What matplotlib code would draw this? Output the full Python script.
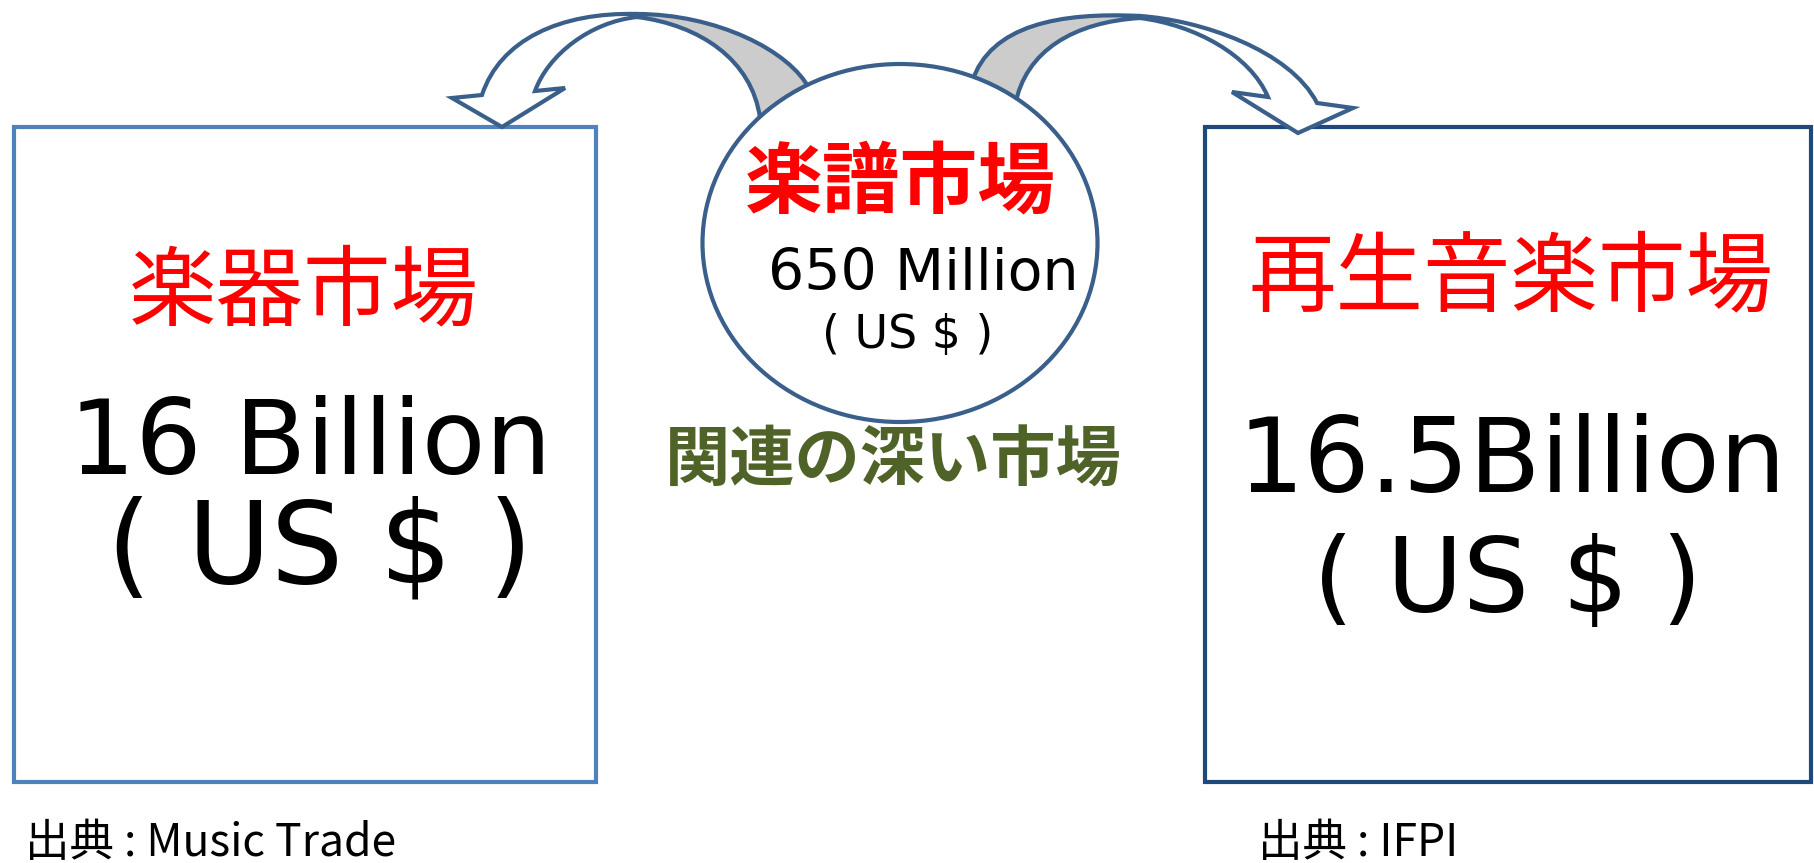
import matplotlib
matplotlib.use('Agg')
import matplotlib.pyplot as plt
from matplotlib.patches import Rectangle, Ellipse, PathPatch
from matplotlib.path import Path

# content
markets = ['楽器市場', '楽譜市場', '再生音楽市場']
sizes = ['16 Billion', '650 Million', '16.5Billion']
unit = '( US $ )'
link_label = '関連の深い市場'
sources = ['出典 : Music Trade', '出典 : IFPI']

cjk = ['Noto Sans CJK JP', 'DejaVu Sans']
red = '#ff0000'
edge = '#3a5f8b'

fig = plt.figure(figsize=(18.14, 8.63), dpi=100)
ax = fig.add_axes([0, 0, 1, 1])
ax.set_xlim(0, 1814)
ax.set_ylim(863, 0)
ax.axis('off')

# boxes
ax.add_patch(Rectangle((14, 127), 582, 655, fill=False, ec='#4f81bd', lw=3))
ax.add_patch(Rectangle((1205, 127), 606, 655, fill=False, ec='#1f497d', lw=3))

# curved arrows (white front, gray back)
M, C, L, Z = Path.MOVETO, Path.CURVE4, Path.LINETO, Path.CLOSEPOLY

def shape(verts, codes, fc):
    ax.add_patch(PathPatch(Path(verts, codes), fc=fc, ec=edge, lw=3,
                           joinstyle='miter', zorder=2))

# left arrow
shape([(637, 14), (560, 12), (500, 40), (482, 95), (452, 98), (502, 127),
       (565, 88), (535, 91), (548, 55), (590, 22), (637, 17), (637, 14)],
      [M, C, C, C, L, L, L, L, C, C, C, Z], 'white')
shape([(637, 14), (715, 14), (790, 50), (810, 90), (760, 118),
       (752, 60), (700, 25), (637, 17), (637, 14)],
      [M, C, C, C, L, C, C, C, Z], '#cccccc')

# right arrow
shape([(1140, 16), (1200, 20), (1290, 50), (1317, 103), (1353, 108),
       (1298, 133), (1232, 92), (1268, 97), (1250, 55), (1195, 25),
       (1140, 18), (1140, 16)],
      [M, C, C, C, L, L, L, L, C, C, C, Z], 'white')
shape([(1140, 16), (1060, 12), (990, 25), (972, 82), (1015, 106),
       (1025, 50), (1075, 22), (1140, 18), (1140, 16)],
      [M, C, C, C, L, C, C, C, Z], '#cccccc')

# centre ellipse
ax.add_patch(Ellipse((900, 243), 395, 358, fc='white', ec=edge, lw=3, zorder=3))

# left box text
ax.text(304, 293, markets[0], color=red, fontsize=63, family=cjk,
        ha='center', va='center', zorder=4)
ax.text(310, 474, sizes[0], color='black', fontsize=75, family='DejaVu Sans',
        ha='center', va='baseline', zorder=4)
ax.text(320, 582, unit, color='black', fontsize=82, family='DejaVu Sans',
        ha='center', va='baseline', zorder=4)

# ellipse text
ax.text(900, 185, markets[1], color=red, fontsize=56, family=cjk,
        fontweight='bold', ha='center', va='center', zorder=4)
ax.text(923, 290, sizes[1], color='black', fontsize=41, family='DejaVu Sans',
        ha='center', va='baseline', zorder=4)
ax.text(908, 348, unit, color='black', fontsize=33, family='DejaVu Sans',
        ha='center', va='baseline', zorder=4)
ax.text(893, 461, link_label, color='#4f6228', fontsize=47, family=cjk,
        fontweight='bold', ha='center', va='center', zorder=4)

# right box text
ax.text(1511, 279, markets[2], color=red, fontsize=63, family=cjk,
        ha='center', va='center', zorder=4)
ax.text(1512, 492, sizes[2], color='black', fontsize=75, family='DejaVu Sans',
        ha='center', va='baseline', zorder=4)
ax.text(1508, 612, unit, color='black', fontsize=75, family='DejaVu Sans',
        ha='center', va='baseline', zorder=4)

# sources
ax.text(25, 843, sources[0], color='black', fontsize=32, family=cjk,
        ha='left', va='center')
ax.text(1258, 843, sources[1], color='black', fontsize=32, family=cjk,
        ha='left', va='center')

fig.savefig('out.png', dpi=100, facecolor='white')
